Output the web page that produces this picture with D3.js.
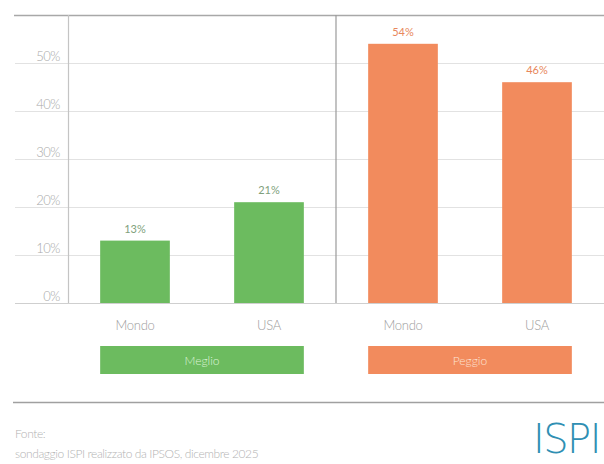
<!DOCTYPE html>
<html><head><meta charset="utf-8">
<script src="https://cdn.jsdelivr.net/npm/d3@7"></script>
<style>
html,body{margin:0;padding:0;background:#fff;}
svg{display:block;font-family:Lato,"Open Sans",sans-serif;}
</style></head>
<body>
<svg id="c" width="604" height="464"></svg>
<script>
const groups = ["Meglio", "Peggio"];
const categories = ["Mondo", "USA"];
const meglioValues = [13, 21];
const peggioValues = [54, 46];
const yTicks = [0, 10, 20, 30, 40, 50];
const sourceLines = ["Fonte:", "sondaggio ISPI realizzato da IPSOS, dicembre 2025"];

const colors = {Meglio: "#6cbb5f", Peggio: "#f28b5d"};
const labelColors = {Meglio: "#7f9f7c", Peggio: "#e8875c"};

const rows = [];
groups.forEach((g, gi) => {
  const vals = gi === 0 ? meglioValues : peggioValues;
  categories.forEach((c, ci) => rows.push({key: g + "-" + c, group: g, cat: c, value: vals[ci]}));
});

const svg = d3.select("#c");
const x = d3.scaleBand().domain(rows.map(d => d.key)).range([68, 604]).paddingInner(0.48).paddingOuter(0.24);
const y = d3.scaleLinear().domain([0, 60]).range([303, 15]);

// gridlines
svg.append("g").selectAll("line").data(yTicks).join("line")
  .attr("x1", 15).attr("x2", 604)
  .attr("y1", d => Math.round(y(d)) + 0.5).attr("y2", d => Math.round(y(d)) + 0.5)
  .attr("stroke", d => d === 0 ? "#cfcfcf" : "#e2e2e2").attr("stroke-width", 1.2);

// top line
svg.append("line").attr("x1", 14).attr("x2", 604).attr("y1", y(60) + 0.5).attr("y2", y(60) + 0.5)
  .attr("stroke", "#a8a8a8").attr("stroke-width", 1.5);

// y axis line
svg.append("line").attr("x1", 68.5).attr("x2", 68.5).attr("y1", y(60)).attr("y2", y(0))
  .attr("stroke", "#c4c4c4").attr("stroke-width", 1.2);

// separator
const sepX = (x(rows[1].key) + x.bandwidth() + x(rows[2].key)) / 2;
svg.append("line").attr("x1", sepX).attr("x2", sepX).attr("y1", y(60)).attr("y2", y(0))
  .attr("stroke", "#9a9a9a").attr("stroke-width", 1.2);

// y tick labels
svg.append("g").selectAll("text").data(yTicks).join("text")
  .attr("x", 60).attr("y", d => y(d) - 2)
  .attr("text-anchor", "end").attr("font-size", 13).attr("font-weight", 300)
  .attr("fill", "#a9a9a9").attr("letter-spacing", -0.5)
  .text(d => d + "%");

// bars
svg.append("g").selectAll("rect").data(rows).join("rect")
  .attr("x", d => x(d.key)).attr("width", x.bandwidth())
  .attr("y", d => y(d.value)).attr("height", d => y(0) - y(d.value))
  .attr("fill", d => colors[d.group]);

// value labels
svg.append("g").selectAll("text").data(rows).join("text")
  .attr("x", d => x(d.key) + x.bandwidth() / 2).attr("y", d => y(d.value) - 8)
  .attr("text-anchor", "middle").attr("font-size", 11)
  .attr("fill", d => labelColors[d.group])
  .text(d => d.value + "%");

// category labels
svg.append("g").selectAll("text").data(rows).join("text")
  .attr("x", d => x(d.key) + x.bandwidth() / 2).attr("y", 330)
  .attr("text-anchor", "middle").attr("font-size", 13).attr("font-weight", 300)
  .attr("fill", "#9d9d9d").attr("letter-spacing", -0.3)
  .text(d => d.cat);

// group boxes
groups.forEach(g => {
  const keys = rows.filter(d => d.group === g).map(d => d.key);
  const x0 = x(keys[0]), x1 = x(keys[keys.length - 1]) + x.bandwidth();
  svg.append("rect").attr("x", x0).attr("y", 346).attr("width", x1 - x0).attr("height", 28)
    .attr("fill", colors[g]);
  svg.append("text").attr("x", (x0 + x1) / 2).attr("y", 365).attr("text-anchor", "middle")
    .attr("font-size", 12).attr("font-weight", 300)
    .attr("fill", g === "Meglio" ? "#def3d8" : "#fde3d6")
    .text(g);
});

// bottom rule
svg.append("line").attr("x1", 13).attr("x2", 604).attr("y1", 402.5).attr("y2", 402.5)
  .attr("stroke", "#a0a0a0").attr("stroke-width", 1.5);

// source
svg.append("g").selectAll("text").data(sourceLines).join("text")
  .attr("x", 15).attr("y", (d, i) => 438 + i * 20)
  .attr("font-size", 12).attr("font-weight", 300).attr("fill", "#b3b3b3").attr("letter-spacing", -0.4)
  .text(d => d);

// logo
svg.append("text").attr("x", 600).attr("y", 453).attr("font-size", 40)
  .attr("text-anchor", "end")
  .attr("font-family", "'DejaVu Sans', sans-serif").attr("font-weight", 200)
  .attr("fill", "#2f8fb3").attr("letter-spacing", -1.5).text("ISPI");
</script>
</body></html>
